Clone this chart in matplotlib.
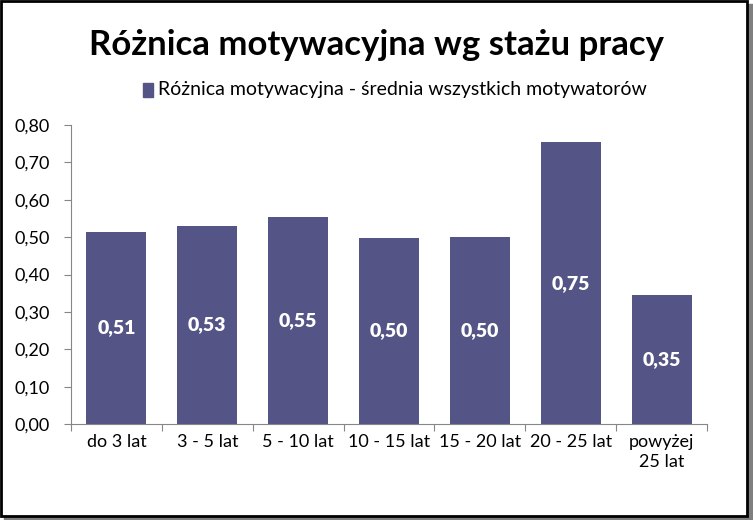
import matplotlib
matplotlib.use("Agg")
import matplotlib.pyplot as plt
from matplotlib.patches import Rectangle

plt.rcParams['font.family'] = ['Lato', 'DejaVu Sans']

categories = ['do 3 lat', '3 - 5 lat', '5 - 10 lat', '10 - 15 lat',
              '15 - 20 lat', '20 - 25 lat', 'powyżej\n25 lat']
values = [0.514, 0.530, 0.554, 0.498, 0.500, 0.754, 0.345]
labels = ['0,51', '0,53', '0,55', '0,50', '0,50', '0,75', '0,35']
yticks = [0.0, 0.1, 0.2, 0.3, 0.4, 0.5, 0.6, 0.7, 0.8]

bar_color = '#545487'

fig = plt.figure(figsize=(7.53, 5.2), dpi=100)
ax = fig.add_axes([71 / 753, 1 - 424 / 520, (707 - 71) / 753, (424 - 125) / 520])

x = list(range(len(categories)))
bars = ax.bar(x, values, width=0.66, color=bar_color, zorder=2)
for b, v, lab in zip(bars, values, labels):
    ax.text(b.get_x() + b.get_width() / 2, v / 2, lab, ha='center', va='center',
            color='white', fontsize=14, fontweight='heavy')

ax.set_xlim(-0.5, len(categories) - 0.5)
ax.set_ylim(0, 0.8)
ax.set_yticks(yticks)
ax.set_yticklabels([f'{t:.2f}'.replace('.', ',') for t in yticks], fontsize=13)
ax.set_xticks([i + 0.5 for i in range(-1, len(categories))], minor=False)
ax.set_xticklabels([])
ax.set_xticks(x, minor=True)
ax.set_xticklabels(categories, minor=True, fontsize=13, linespacing=1.3)
ax.tick_params(axis='x', which='minor', length=0, pad=7)
ax.tick_params(axis='x', which='major', length=5, color='#868686', direction='out')
ax.tick_params(axis='y', length=5, color='#868686', pad=10)
for s in ['top', 'right']:
    ax.spines[s].set_visible(False)
ax.spines['left'].set_color('#868686')
ax.spines['bottom'].set_color('#868686')

fig.text(0.5, 1 - 45 / 520, 'Różnica motywacyjna wg stażu pracy', ha='center', va='center',
         fontsize=25, fontweight='bold')
fig.patches.append(Rectangle((143 / 753, 1 - 97 / 520), 10 / 753, 14 / 520,
                             transform=fig.transFigure, color=bar_color))
fig.text(158 / 753, 1 - 90 / 520, 'Różnica motywacyjna - średnia wszystkich motywatorów',
         ha='left', va='center', fontsize=14)

# outer frame with shadow
fig.patches.append(Rectangle((4 / 753, 0), 749 / 753, 516 / 520, transform=fig.transFigure,
                             color='#7f7f7f', zorder=-2))
fig.patches.append(Rectangle((1 / 753, 4 / 520), 746 / 753, 515 / 520, transform=fig.transFigure,
                             facecolor='white', edgecolor='black', linewidth=2, zorder=-1))

fig.savefig('out.png', dpi=100)
